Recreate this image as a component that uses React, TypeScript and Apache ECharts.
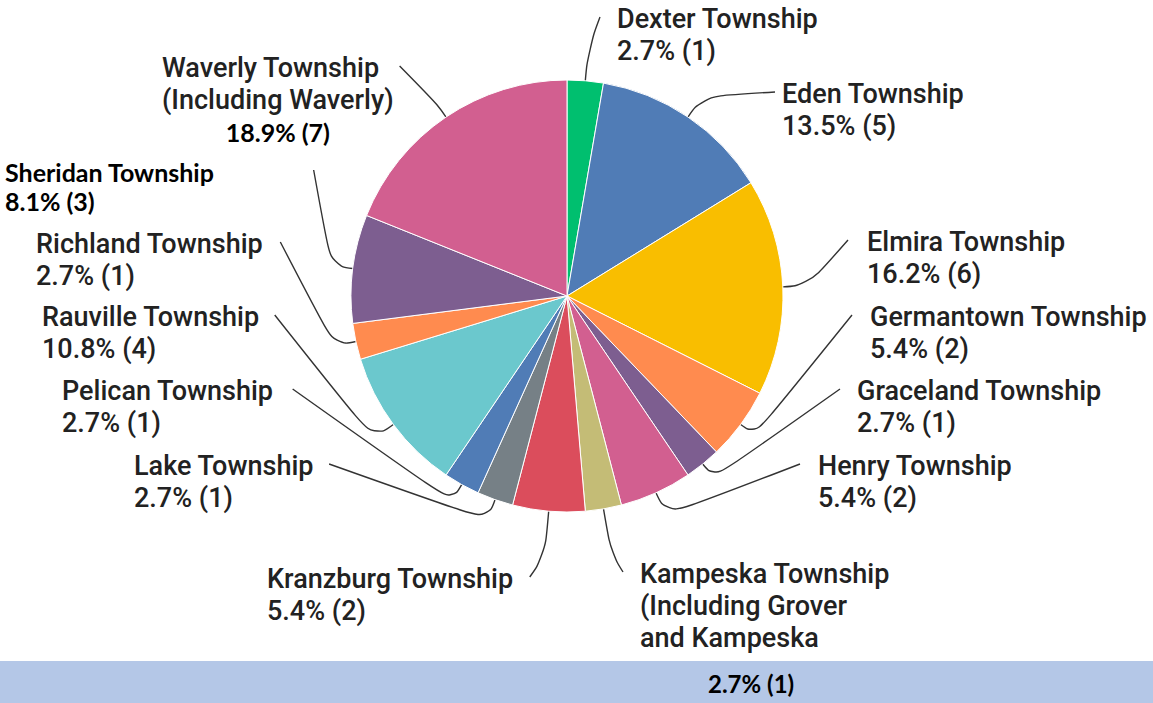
import React, { useEffect, useRef } from 'react';
import * as echarts from 'echarts';

// ---- data ----
const townships = [
  'Dexter Township',
  'Eden Township',
  'Elmira Township',
  'Germantown Township',
  'Graceland Township',
  'Henry Township',
  'Kampeska Township',
  'Kranzburg Township',
  'Lake Township',
  'Pelican Township',
  'Rauville Township',
  'Richland Township',
  'Sheridan Township',
  'Waverly Township',
];
const notes = ['', '', '', '', '', '', '(Including Grover\nand Kampeska', '', '', '', '', '', '', '(Including Waverly)'];
const responses = [1, 5, 6, 2, 1, 2, 1, 2, 1, 1, 4, 1, 3, 7];
const sliceColors = [
  '#00bf6f', '#507cb6', '#f9be00', '#ff8b4f', '#7d5e90', '#d25f90', '#c4bc76',
  '#db4d5c', '#768086', '#507cb6', '#6bc8cd', '#ff8b4f', '#7d5e90', '#d25f90',
];

// ---- label placement (text left edge, centre of first line) ----
const labelSpots = [
  [617, 19], [782, 94], [867, 242], [870, 317], [857, 391], [818, 466], [640, 574],
  [267, 579], [134, 466], [62, 391], [42, 317], [36, 244], [5, 172], [162, 68],
];
// radial stub length of each leader line, and gap between line end and text
const leaderStub = [32, 25, 25, 18, 18, 25, 45, 45, 22, 20, 25, 22, 22, 15];
const leaderGap = [17, 7, 19, 18, 17, 18, 17, 16, 15, 19, 15, 17, 99, 6];

const total = responses.reduce((a, b) => a + b, 0);
const pctText = (i: number) => `${((responses[i] / total) * 100).toFixed(1)}% (${responses[i]})`;

const MAIN_LH = 32;
const CAL_LH = 29;
const BAR_LH = 58;

function lineSpec(i: number) {
  const nameLines = [townships[i], ...notes[i].split('\n').filter(Boolean)];
  if (i === 12) {
    const lines = [...nameLines, pctText(i)].map((l) => `{c|${l}}`);
    return { text: lines.join('\n'), first: CAL_LH };
  }
  const lines = nameLines.map((l) => `{t|${l}}`);
  if (i === 13) lines.push(`{cc|${pctText(i)}}`);
  else if (i === 6) lines.push(`{bar|${pctText(i)}}`);
  else lines.push(`{t|${pctText(i)}}`);
  return { text: lines.join('\n'), first: MAIN_LH };
}

const specs = townships.map((_, i) => lineSpec(i));

export default function App() {
  const ref = useRef<HTMLDivElement>(null);
  useEffect(() => {
    if (!ref.current) return;
    const chart = echarts.init(ref.current, undefined, { renderer: 'svg' });
    const mainFont = { fontFamily: 'Roboto', fontWeight: 500, fontSize: 27, color: '#222', lineHeight: MAIN_LH };
    const calFont = { fontFamily: 'Lato', fontWeight: 'bold', fontSize: 25, color: '#000', lineHeight: CAL_LH };
    chart.setOption({
      animation: false,
      backgroundColor: '#ffffff',
      graphic: [
        {
          type: 'rect',
          z: 0,
          shape: { x: 0, y: 661, width: 1153, height: 42 },
          style: { fill: '#b4c7e7' },
        },
      ],
      series: [
        {
          type: 'pie',
          z: 5,
          center: [567, 296],
          radius: 216,
          startAngle: 90,
          clockwise: true,
          avoidLabelOverlap: false,
          minShowLabelAngle: 0,
          itemStyle: { borderColor: '#ffffff', borderWidth: 1 },
          label: {
            show: true,
            position: 'outside',
            overflow: 'none',
            formatter: (p: any) => specs[p.dataIndex].text,
            rich: {
              t: mainFont,
              c: calFont,
              cc: { ...calFont, lineHeight: MAIN_LH, align: 'center' },
              bar: { ...calFont, fontSize: 24, lineHeight: BAR_LH, padding: [0, 0, 0, 68] },
            },
          },
          labelLine: {
            show: true,
            length: 20,
            length2: 10,
            smooth: 0.5,
            lineStyle: { color: '#333', width: 1.4 },
          },
          labelLayout: (p: any) => {
            const i = p.dataIndex;
            const [tx, yc] = labelSpots[i];
            const x = tx;
            const y = yc - specs[i].first / 2;
            const pts = p.labelLinePoints;
            const out: any = { x, y, align: 'left', verticalAlign: 'top' };
            if (pts && pts.length) {
              const a = pts[0];
              const b = pts[1];
              const endX = tx > a[0] ? tx - leaderGap[i] : tx + p.labelRect.width + leaderGap[i];
              out.labelLinePoints = [a, b, [endX, yc - 2]];
            }
            return out;
          },
          emphasis: { disabled: true },
          data: townships.map((name, i) => ({
            name,
            value: responses[i],
            itemStyle: { color: sliceColors[i] },
            labelLine: { length: leaderStub[i] },
          })),
        },
      ],
    });
    return () => chart.dispose();
  }, []);
  return <div ref={ref} style={{ position: 'fixed', left: 0, top: 0, width: 1153, height: 703 }} />;
}
